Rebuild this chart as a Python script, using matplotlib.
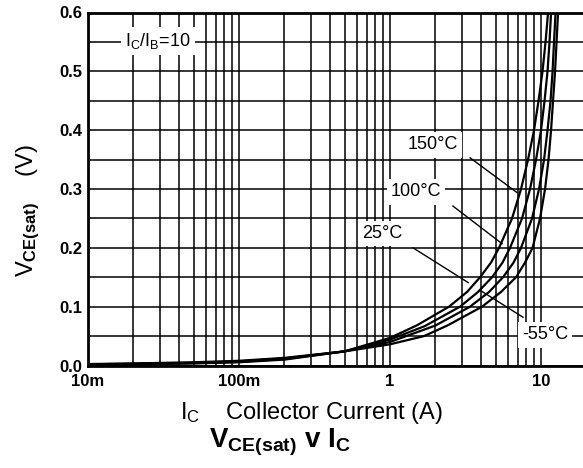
# VCE(sat) vs collector current, four junction temperatures
import numpy as np
import matplotlib
matplotlib.use('Agg')
import matplotlib.pyplot as plt
from matplotlib.ticker import FixedLocator, FixedFormatter, LogLocator, NullFormatter

plt.rcParams['font.family'] = ['Liberation Sans', 'DejaVu Sans']
plt.rcParams['mathtext.fontset'] = 'custom'
plt.rcParams['mathtext.rm'] = 'Liberation Sans'
plt.rcParams['mathtext.bf'] = 'Liberation Sans:bold'
plt.rcParams['mathtext.it'] = 'Liberation Sans:italic'

# ── Data (collector current in A, saturation voltage in V) ────────────────────
i_150 = [0.01, 0.02, 0.05, 0.1, 0.2, 0.5, 1.0, 1.5, 2.459, 3.236, 3.945, 4.666, 5.270, 6.427, 7.371, 8.202, 8.986, 9.626, 10.23, 10.71, 11.13]
v_150 = [0.0015, 0.002, 0.0035, 0.0055, 0.01, 0.024, 0.047, 0.068, 0.10, 0.125, 0.15, 0.175, 0.20, 0.25, 0.30, 0.35, 0.40, 0.45, 0.50, 0.55, 0.60]

i_100 = [0.01, 0.02, 0.05, 0.1, 0.2, 0.5, 1.0, 1.7, 2.908, 3.826, 4.737, 5.559, 6.234, 7.484, 8.456, 9.267, 10.0, 10.55, 11.04, 11.38, 11.65]
v_100 = [0.0018, 0.0025, 0.004, 0.0062, 0.011, 0.024, 0.044, 0.067, 0.10, 0.125, 0.15, 0.175, 0.20, 0.25, 0.30, 0.35, 0.40, 0.45, 0.50, 0.55, 0.60]

i_25 = [0.01, 0.02, 0.05, 0.1, 0.2, 0.5, 1.0, 2.0, 3.388, 4.526, 5.601, 6.576, 7.371, 8.717, 9.699, 10.47, 11.04, 11.56, 11.92, 12.19, 12.48]
v_25 = [0.002, 0.003, 0.0045, 0.007, 0.012, 0.024, 0.040, 0.068, 0.10, 0.125, 0.15, 0.175, 0.20, 0.25, 0.30, 0.35, 0.40, 0.45, 0.50, 0.55, 0.60]

i_m55 = [0.01, 0.02, 0.05, 0.1, 0.2, 0.5, 1.0, 1.68, 2.4, 4.068, 5.433, 6.830, 7.834, 8.784, 9.849, 10.63, 11.21, 11.65, 12.01, 12.38, 12.67, 12.96]
v_m55 = [0.0025, 0.0035, 0.0055, 0.008, 0.013, 0.024, 0.036, 0.05, 0.068, 0.10, 0.125, 0.15, 0.175, 0.20, 0.25, 0.30, 0.35, 0.40, 0.45, 0.50, 0.55, 0.60]

x_ticks = [0.01, 0.1, 1, 10]
x_tick_labels = ['10m', '100m', '1', '10']
y_ticks = [0.0, 0.1, 0.2, 0.3, 0.4, 0.5, 0.6]
y_tick_labels = ['0.0', '0.1', '0.2', '0.3', '0.4', '0.5', '0.6']

# label text, label position (I, V), leader start, leader end
labels = [
    ('150°C', (1.927, 0.375), (3.39, 0.353), (6.93, 0.294)),
    ('100°C', (1.486, 0.295), (2.61, 0.271), (5.52, 0.207)),
    ('25°C',  (0.885, 0.224), (1.42, 0.200), (3.29, 0.141)),
    ('-55°C', (10.6, 0.052), (7.60, 0.082), (3.94, 0.128)),
]

# ── Figure ────────────────────────────────────────────────────────────────────
fig = plt.figure(figsize=(5.83, 4.68), dpi=100)
ax = fig.add_axes([88 / 583, 102.5 / 468, 498.5 / 583, 353 / 468])
ax.set_xscale('log')
ax.set_xlim(0.01, 20)
ax.set_ylim(0, 0.6)

# grid: every 0.05 V and every 1-9 step of each decade
ax.xaxis.set_major_locator(FixedLocator(x_ticks))
ax.xaxis.set_major_formatter(FixedFormatter(x_tick_labels))
ax.xaxis.set_minor_locator(LogLocator(base=10, subs=np.arange(2, 10)))
ax.xaxis.set_minor_formatter(NullFormatter())
ax.yaxis.set_major_locator(FixedLocator(y_ticks))
ax.yaxis.set_major_formatter(FixedFormatter(y_tick_labels))
ax.yaxis.set_minor_locator(FixedLocator(np.arange(0.05, 0.6, 0.1)))
ax.grid(which='both', color='black', linewidth=1.1)
ax.set_axisbelow(True)
ax.tick_params(which='both', length=0)
ax.tick_params(axis='y', pad=4)
ax.tick_params(axis='x', pad=6)
for lbl in ax.get_xticklabels() + ax.get_yticklabels():
    lbl.set_fontsize(12)
    lbl.set_fontweight('bold')
for sp in ax.spines.values():
    sp.set_linewidth(2)

for xs, ys in [(i_150, v_150), (i_100, v_100), (i_25, v_25), (i_m55, v_m55)]:
    ax.plot(xs, ys, color='black', linewidth=1.6, zorder=3)

box = dict(facecolor='white', edgecolor='none', pad=3)
for text, pos, p0, p1 in labels:
    ax.plot([p0[0], p1[0]], [p0[1], p1[1]], color='black', linewidth=1.0, zorder=4)
    ax.text(pos[0], pos[1], text, fontsize=13, ha='center', va='center',
            bbox=box, zorder=5)

ax.text(0.029, 0.552, r'$\mathrm{I}_{\mathrm{C}}/\mathrm{I}_{\mathrm{B}}$=10', fontsize=13,
        ha='center', va='center', bbox=box, zorder=5)

# axis labels and caption
fig.text(28 / 583, 1 - 211 / 468, r'$\mathrm{V}_{\mathbf{CE(sat)}}$    (V)', fontsize=17,
         rotation=90, ha='center', va='center')
fig.text(311 / 583, 1 - 419 / 468, r'$\mathrm{I}_{\mathrm{C}}$    Collector Current (A)',
         fontsize=17, ha='center', va='baseline')
fig.text(280 / 583, 1 - 447 / 468, r'$\mathbf{V}_{\mathbf{CE(sat)}}\ \mathbf{v}\ \mathbf{I}_{\mathbf{C}}$',
         fontsize=20, ha='center', va='baseline')

fig.savefig('out.png', dpi=100)
